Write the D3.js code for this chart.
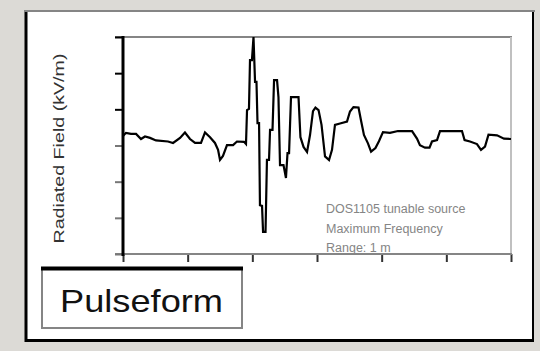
<!DOCTYPE html>
<html>
<head>
<meta charset="utf-8">
<script src="https://cdn.jsdelivr.net/npm/d3@7"></script>
<style>
  html, body { margin: 0; padding: 0; background: #dcdad6; }
  svg { display: block; }
</style>
</head>
<body>
<div id="pulse_chart"></div>
<script>
// waveform samples (time in ns, field in kV/m)
const times = [0, 0.23, 0.62, 1.01, 1.39, 1.70, 2.09, 2.55, 3.48, 3.87, 4.41, 4.79, 5.18, 5.57, 6.03, 6.34,
  6.73, 7.11, 7.35, 7.50, 7.73, 8.04, 8.51, 8.81, 9.36, 9.51, 9.59, 9.74, 9.82, 9.97, 10.09, 10.21,
  10.32, 10.40, 10.52, 10.59, 10.75, 10.83, 11.02, 11.13, 11.29, 11.37, 11.56, 11.68, 11.91, 12.02,
  12.14, 12.41, 12.60, 12.72, 12.84, 12.99, 13.57, 13.72, 13.96, 14.23, 14.46, 14.69, 14.88, 15.12,
  15.35, 15.62, 15.93, 16.16, 16.39, 16.78, 17.32, 17.55, 17.82, 18.21, 18.40, 18.63, 18.94, 19.18,
  19.52, 19.79, 20.10, 20.64, 21.26, 22.35, 22.73, 22.96, 23.35, 23.70, 23.89, 24.28, 24.51, 26.21,
  26.41, 26.83, 27.37, 27.68, 27.99, 28.26, 28.92, 29.46, 30.0];
const field = [0.26, 0.35, 0.32, 0.32, 0.18, 0.25, 0.21, 0.14, 0.11, 0.07, 0.21, 0.36, 0.18, 0.07, 0.07, 0.36,
  0.23, 0.07, -0.12, -0.40, -0.29, 0.01, 0.01, 0.11, 0.10, 0.04, 0.98, 1.01, 2.36, 2.36, 3.0, 1.76,
  1.76, 0.62, 0.62, -1.65, -1.67, -2.39, -2.39, -0.40, -0.40, 0.43, 0.43, 1.81, 1.81, 1.34,
  -0.54, -0.54, -0.90, -0.21, -0.21, 1.34, 1.34, 0.23, -0.04, -0.18, 0.29, 0.95, 1.05, 0.98,
  0.57, -0.30, -0.40, -0.12, 0.57, 0.61, 0.66, 0.94, 1.06, 1.05, 0.70, 0.29, 0.06, -0.17,
  -0.07, 0.12, 0.37, 0.35, 0.40, 0.40, 0.19, 0.01, -0.06, -0.06, 0.11, 0.15, 0.40, 0.40,
  0.15, 0.11, 0.04, -0.12, -0.03, 0.30, 0.28, 0.19, 0.18];

const xTicks = [0, 5, 10, 15, 20, 25, 30];
const yTicks = [-3, -2, -1, 0, 1, 2, 3];

const yLabel = "Radiated Field (kV/m)";
const noteLines = ["DOS1105 tunable source", "Maximum Frequency", "Range: 1 m"];
const boxTitle = "Pulseform";

const WIDTH = 540;
const HEIGHT = 351;
const plot = { left: 123, right: 511, top: 37, bottom: 254 };

const svg = d3.select("#pulse_chart").append("svg")
  .attr("width", WIDTH)
  .attr("height", HEIGHT);

// white card with its frame
svg.append("rect")
  .attr("x", 25).attr("y", 11)
  .attr("width", 509).attr("height", 329)
  .attr("fill", "#fff");
const frame = svg.append("g").attr("fill", "none");
frame.append("line").attr("x1", 24).attr("x2", 535).attr("y1", 11).attr("y2", 11)
  .attr("stroke", "#858585").attr("stroke-width", 2);
frame.append("line").attr("x1", 26).attr("x2", 26).attr("y1", 12).attr("y2", 342)
  .attr("stroke", "#000").attr("stroke-width", 3);
frame.append("line").attr("x1", 533).attr("x2", 533).attr("y1", 12).attr("y2", 342)
  .attr("stroke", "#000").attr("stroke-width", 2);
frame.append("line").attr("x1", 25).attr("x2", 534).attr("y1", 340.5).attr("y2", 340.5)
  .attr("stroke", "#000").attr("stroke-width", 3);

const x = d3.scaleLinear().domain([0, 30]).range([plot.left, plot.right]);
const y = d3.scaleLinear().domain([-3, 3]).range([plot.bottom, plot.top]);

// plot borders: grey top, light grey right
svg.append("line")
  .attr("x1", plot.left - 8).attr("x2", plot.right + 1)
  .attr("y1", y(3)).attr("y2", y(3))
  .attr("stroke", "#858585").attr("stroke-width", 2);
svg.append("line")
  .attr("x1", plot.right).attr("x2", plot.right)
  .attr("y1", plot.top).attr("y2", plot.bottom)
  .attr("stroke", "#c0c0c0").attr("stroke-width", 2);

// axes
const xAxis = svg.append("g")
  .attr("transform", `translate(0,${plot.bottom})`)
  .call(d3.axisBottom(x).tickValues(xTicks).tickSize(8).tickFormat(""));
xAxis.select(".domain").remove();
xAxis.selectAll(".tick line").attr("stroke", "#333").attr("stroke-width", 2);
svg.append("line")
  .attr("x1", plot.left - 8).attr("x2", plot.right + 1)
  .attr("y1", plot.bottom).attr("y2", plot.bottom)
  .attr("stroke", "#858585").attr("stroke-width", 2);

const yAxis = svg.append("g")
  .attr("transform", `translate(${plot.left},0)`)
  .call(d3.axisLeft(y).tickValues(yTicks).tickSize(8).tickFormat(""));
yAxis.select(".domain").remove();
yAxis.selectAll(".tick line")
  .attr("stroke", d => d > 0 ? "#000" : "#777")
  .attr("stroke-width", 2);
svg.append("line")
  .attr("x1", plot.left).attr("x2", plot.left)
  .attr("y1", plot.top - 1).attr("y2", plot.bottom + 2)
  .attr("stroke", "#000").attr("stroke-width", 3);

// waveform
const line = d3.line()
  .x((d, i) => x(times[i]))
  .y(d => y(d));
svg.append("path")
  .datum(field)
  .attr("fill", "none")
  .attr("stroke", "#000")
  .attr("stroke-width", 2.2)
  .attr("stroke-linejoin", "miter")
  .attr("d", line);

// y label
svg.append("text")
  .attr("transform", `translate(64,${(plot.top + plot.bottom) / 2 + 3}) rotate(-90)`)
  .attr("text-anchor", "middle")
  .attr("font-family", "Liberation Sans, Arial, sans-serif")
  .attr("font-size", 15)
  .attr("textLength", 190)
  .attr("lengthAdjust", "spacingAndGlyphs")
  .attr("fill", "#333")
  .text(yLabel);

// note
svg.append("g")
  .attr("font-family", "Liberation Sans, Arial, sans-serif")
  .attr("font-size", 12.5)
  .attr("fill", "#858585")
  .selectAll("text")
  .data(noteLines)
  .join("text")
  .attr("x", 326)
  .attr("y", (d, i) => 213 + i * 19.5)
  .text(d => d);

// title box
svg.append("rect")
  .attr("x", 42).attr("y", 268)
  .attr("width", 200).attr("height", 60)
  .attr("fill", "#fff")
  .attr("stroke", "#858585").attr("stroke-width", 2);
svg.append("line")
  .attr("x1", 41).attr("x2", 243).attr("y1", 268.5).attr("y2", 268.5)
  .attr("stroke", "#000").attr("stroke-width", 4);
svg.append("text")
  .attr("x", 60).attr("y", 312)
  .attr("font-family", "Liberation Sans, Arial, sans-serif")
  .attr("font-size", 32)
  .attr("textLength", 163)
  .attr("lengthAdjust", "spacingAndGlyphs")
  .attr("fill", "#111")
  .text(boxTitle);
</script>
</body>
</html>
